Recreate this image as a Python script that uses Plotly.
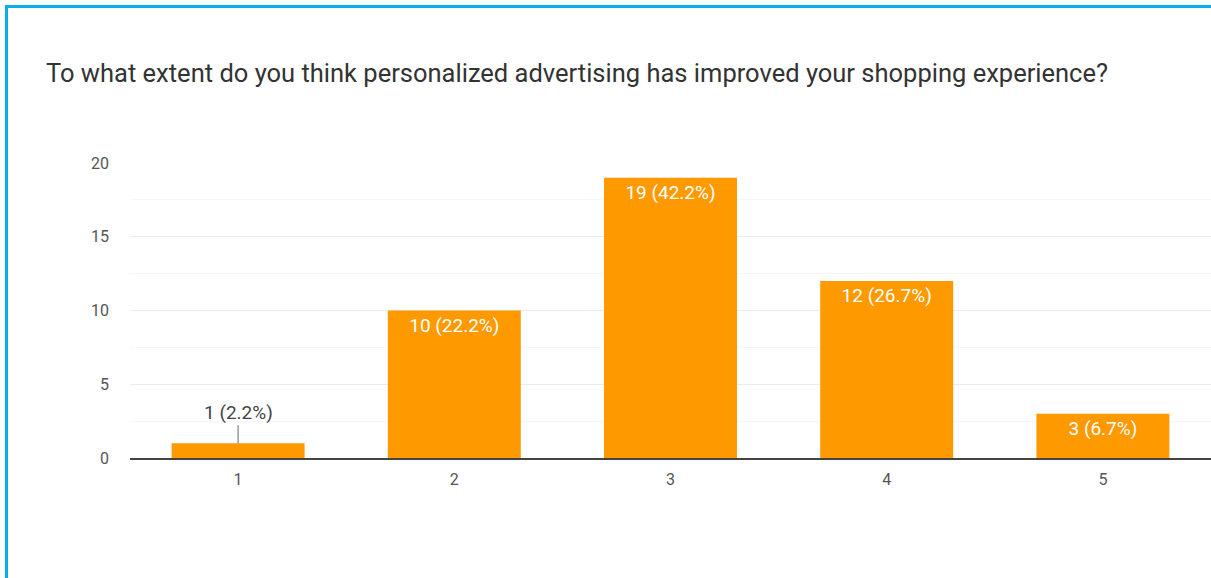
import plotly.graph_objects as go

# Survey responses on a 1-5 scale
categories = ["1", "2", "3", "4", "5"]
counts = [1, 10, 19, 12, 3]
y_ticks = [0, 5, 10, 15, 20]

title_text = "To what extent do you think personalized advertising has improved your shopping experience?"

total = sum(counts)
labels = [f"{c} ({c / total * 100:.1f}%)" for c in counts]

W, H = 1211, 578
L, R, T, B = 130, 0, 163, 120
pw, ph = W - L - R, H - T - B


def px_x(p):
    return (p - L) / pw


def px_y(p):
    return (H - B - p) / ph


# Small bars get their label outside with a leader line; others inside
inside_text = [lab if c >= 3 else "" for c, lab in zip(counts, labels)]

fig = go.Figure(
    go.Bar(
        x=categories,
        y=counts,
        marker=dict(color="#ff9900", line=dict(width=0)),
        text=inside_text,
        textposition="inside",
        insidetextanchor="end",
        textangle=0,
        insidetextfont=dict(color="#ffffff", size=19, family="Roboto"),
        hoverinfo="skip",
    )
)

for i, (c, lab) in enumerate(zip(counts, labels)):
    if c < 3:
        fig.add_annotation(
            x=i, y=c, xref="x", yref="y",
            text=lab, showarrow=True, arrowhead=0, arrowwidth=1,
            arrowcolor="#666666", ax=0, ay=-31,
            font=dict(color="#444444", size=19, family="Roboto"),
        )

border = "#0aaee9"
fig.add_shape(type="line", xref="paper", yref="paper",
              x0=px_x(6.5), x1=px_x(W + 5), y0=px_y(6.5), y1=px_y(6.5),
              line=dict(color=border, width=3))
fig.add_shape(type="line", xref="paper", yref="paper",
              x0=px_x(6.5), x1=px_x(6.5), y0=px_y(5), y1=px_y(H + 5),
              line=dict(color=border, width=3))

fig.update_layout(
    width=W, height=H,
    margin=dict(l=L, r=R, t=T, b=B),
    paper_bgcolor="white", plot_bgcolor="white",
    font=dict(family="Roboto", color="#555555"),
    bargap=0.385,
    showlegend=False,
    title=dict(
        text=title_text, xref="container", yref="container",
        x=46 / W, xanchor="left", y=1 - 73 / H, yanchor="middle",
        font=dict(size=25.5, color="#333333", family="Roboto"),
    ),
    xaxis=dict(
        showline=True, linecolor="#444444", linewidth=1.5,
        showgrid=False, ticks="", tickfont=dict(size=16, color="#555555"),
        ticklabelstandoff=6,
    ),
    yaxis=dict(
        range=[0, 20], tickvals=y_ticks, showgrid=True,
        gridcolor="#ececec", gridwidth=1, zeroline=False,
        tickfont=dict(size=16, color="#555555"), ticklabelstandoff=20,
        minor=dict(dtick=2.5, showgrid=True, gridcolor="#f6f6f6", gridwidth=1),
    ),
)

fig.write_html("out.html")
